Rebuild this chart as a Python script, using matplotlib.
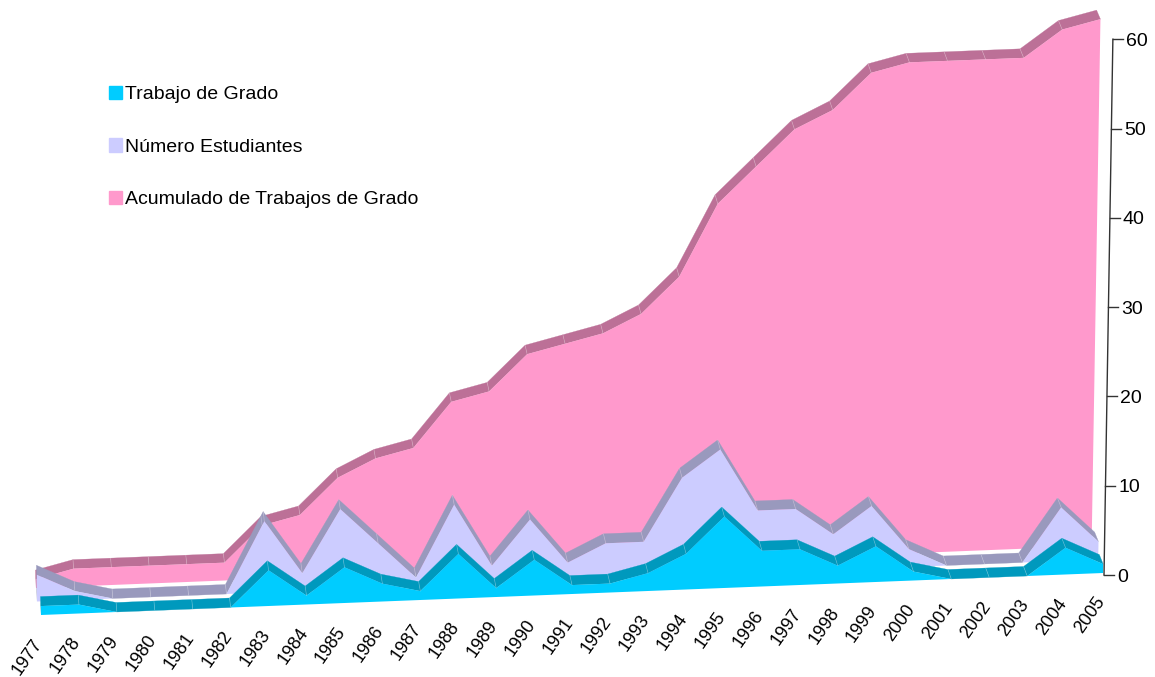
import matplotlib
matplotlib.use("Agg")
import matplotlib.pyplot as plt
import matplotlib.patches as mpatches

plt.rcParams["font.family"] = ["Liberation Sans", "DejaVu Sans"]

YEARS = list(range(1977, 2006))
TRABAJO = [1, 1, 0, 0, 0, 0, 4, 1, 4, 2, 1, 5, 1, 4, 1, 1, 2, 4, 8, 4, 4, 2, 4, 1, 0, 0, 0, 3, 1]
ESTUDIANTES = [3, 1, 0, 0, 0, 0, 8, 2, 9, 5, 1, 9, 2, 7, 2, 4, 4, 11, 14, 7, 7, 4, 7, 2, 0, 0, 0, 6, 2]
ACUMULADO = [1, 2, 2, 2, 2, 2, 6, 7, 11, 13, 14, 19, 20, 24, 25, 26, 28, 32, 40, 44, 48, 50, 54, 55, 55, 55, 55, 58, 59]
Y_TICKS = [0, 10, 20, 30, 40, 50, 60]

FRONT = "#00CCFF", "#CCCCFF", "#FF99CC"
SIDE = "#0099BD", "#9999BD", "#BC7097"

# where each series' front base starts in the image, and its step per year
BASE_X = [41, 37, 36]
STEP_X = [37.93, 37.9, 37.7]
BASE_Y = [615, 601.5, 588]
STEP_Y = -1.5
UNIT_Y = 8.93
DEPTH_Y = [9.5, 9.5, 9]


def project(s, i, v, back=False):
    # fake Excel 3D: verticals fan out a little towards the right
    x = BASE_X[s] + STEP_X[s] * i + v * (-0.05 + 0.2 * i / 28)
    y = BASE_Y[s] + STEP_Y * i - UNIT_Y * v
    if back:
        x += -0.5 - 0.12 * i
        y -= DEPTH_Y[s]
    return x, y


def draw_series(ax, s, values):
    n = len(values)
    # left end wall
    ax.add_patch(mpatches.Polygon([project(s, 0, 0), project(s, 0, values[0]),
                                   project(s, 0, values[0], True), project(s, 0, 0, True)],
                                  facecolor=SIDE[s], edgecolor="none"))
    # top band
    for i in range(n - 1):
        ax.add_patch(mpatches.Polygon([project(s, i, values[i]), project(s, i + 1, values[i + 1]),
                                       project(s, i + 1, values[i + 1], True), project(s, i, values[i], True)],
                                      facecolor=SIDE[s], edgecolor=SIDE[s], linewidth=0.2))
    for i in range(1, n - 1):
        a, b = project(s, i, values[i]), project(s, i, values[i], True)
        ax.plot([a[0], b[0]], [a[1], b[1]], color="white", alpha=0.3, linewidth=0.5)
    # front face
    pts = [project(s, i, v) for i, v in enumerate(values)]
    pts += [project(s, n - 1, 0), project(s, 0, 0)]
    ax.add_patch(mpatches.Polygon(pts, facecolor=FRONT[s], edgecolor="none"))


fig = plt.figure(figsize=(11.55, 6.77), dpi=100)
ax = fig.add_axes([0, 0, 1, 1])
ax.set_xlim(0, 1155)
ax.set_ylim(677, 0)
ax.axis("off")

draw_series(ax, 2, ACUMULADO)
draw_series(ax, 1, ESTUDIANTES)
draw_series(ax, 0, TRABAJO)

# tilted value axis
ax.plot([1104, 1104 + 60 * 0.148], [575, 575 - 60 * UNIT_Y], color="#333333", linewidth=1)
for t in Y_TICKS:
    x = 1104 + t * 0.148
    y = 575 - t * UNIT_Y
    ax.plot([x, x + 10], [y, y], color="#333333", linewidth=1)
    ax.text(x + 13, y, str(t), fontsize=14, ha="left", va="center_baseline", color="black")

for i, year in enumerate(YEARS):
    x, y = project(0, i, 0)
    ax.text(x - 2, y + 25.5, str(year), fontsize=13, rotation=55, rotation_mode="anchor",
            ha="right", va="center", color="black")

handles = [mpatches.Patch(color=FRONT[0], label="Trabajo de Grado"),
           mpatches.Patch(color=FRONT[1], label="Número Estudiantes"),
           mpatches.Patch(color=FRONT[2], label="Acumulado de Trabajos de Grado")]
ax.legend(handles=handles, loc="upper left", bbox_to_anchor=(108.5 / 1155, 1 - 86 / 677), frameon=False,
          fontsize=14, handlelength=0.67, handleheight=0.67, handletextpad=0.2, labelspacing=1.8,
          borderpad=0, borderaxespad=0, labelcolor="black")

fig.savefig("out.png", dpi=100)
